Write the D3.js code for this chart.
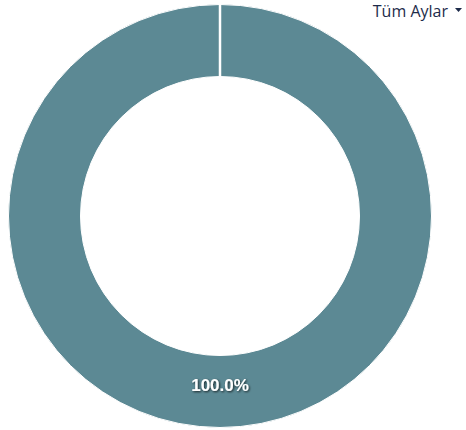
<!DOCTYPE html>
<html>
<head>
<meta charset="utf-8">
<script src="https://cdn.jsdelivr.net/npm/d3@7"></script>
<style>
  html, body { margin: 0; padding: 0; background: #fff; }
  svg { display: block; }
</style>
</head>
<body>
<svg id="chart" width="466" height="430"></svg>
<script>
const categories = ["Tüm Aylar"];
const values = [100];
const labels = ["100.0%"];
const legendLabel = "Tüm Aylar";

const svg = d3.select("#chart");
const cx = 220, cy = 216, outerR = 211.5, innerR = 139.5;

const defs = svg.append("defs");
const f = defs.append("filter").attr("id", "shadow").attr("x", "-20%").attr("y", "-50%").attr("width", "140%").attr("height", "200%");
f.append("feDropShadow").attr("dx", 1).attr("dy", 1).attr("stdDeviation", 1.2).attr("flood-color", "#000").attr("flood-opacity", 0.75);

const pie = d3.pie().sort(null).value(d => d);
const arc = d3.arc().innerRadius(innerR).outerRadius(outerR);
const color = d3.scaleOrdinal().domain(categories).range(["#5c8994"]);

const g = svg.append("g").attr("transform", `translate(${cx},${cy})`);
const arcs = pie(values);

g.selectAll("path.slice")
  .data(arcs)
  .enter().append("path")
  .attr("class", "slice")
  .attr("d", arc)
  .attr("fill", (d, i) => color(categories[i]))
  .attr("stroke", "#fff")
  .attr("stroke-width", 1);

g.selectAll("line.seam")
  .data(arcs)
  .enter().append("line")
  .attr("class", "seam")
  .attr("x1", d => Math.sin(d.startAngle) * innerR)
  .attr("y1", d => -Math.cos(d.startAngle) * innerR)
  .attr("x2", d => Math.sin(d.startAngle) * (outerR + 1))
  .attr("y2", d => -Math.cos(d.startAngle) * (outerR + 1))
  .attr("stroke", "#fff")
  .attr("stroke-width", 2.5);

const labelR = 169;
g.selectAll("text.lbl")
  .data(arcs)
  .enter().append("text")
  .attr("class", "lbl")
  .attr("x", d => Math.sin((d.startAngle + d.endAngle) / 2) * labelR)
  .attr("y", d => -Math.cos((d.startAngle + d.endAngle) / 2) * labelR)
  .attr("text-anchor", "middle")
  .attr("dominant-baseline", "central")
  .attr("font-family", "Liberation Sans, Arial, sans-serif")
  .attr("font-weight", "bold")
  .attr("font-size", 17)
  .attr("fill", "#fff")
  .attr("filter", "url(#shadow)")
  .text((d, i) => labels[i]);

const lg = svg.append("g");
lg.append("text")
  .attr("x", 448)
  .attr("y", 17)
  .attr("text-anchor", "end")
  .attr("font-family", "Open Sans, sans-serif")
  .attr("font-size", 16)
  .attr("fill", "#1d2b4a")
  .text(legendLabel);
lg.append("path")
  .attr("d", d3.line()([[455, 8], [462, 8], [458.5, 12]]) + "Z")
  .attr("fill", "#1d2b4a");
</script>
</body>
</html>
